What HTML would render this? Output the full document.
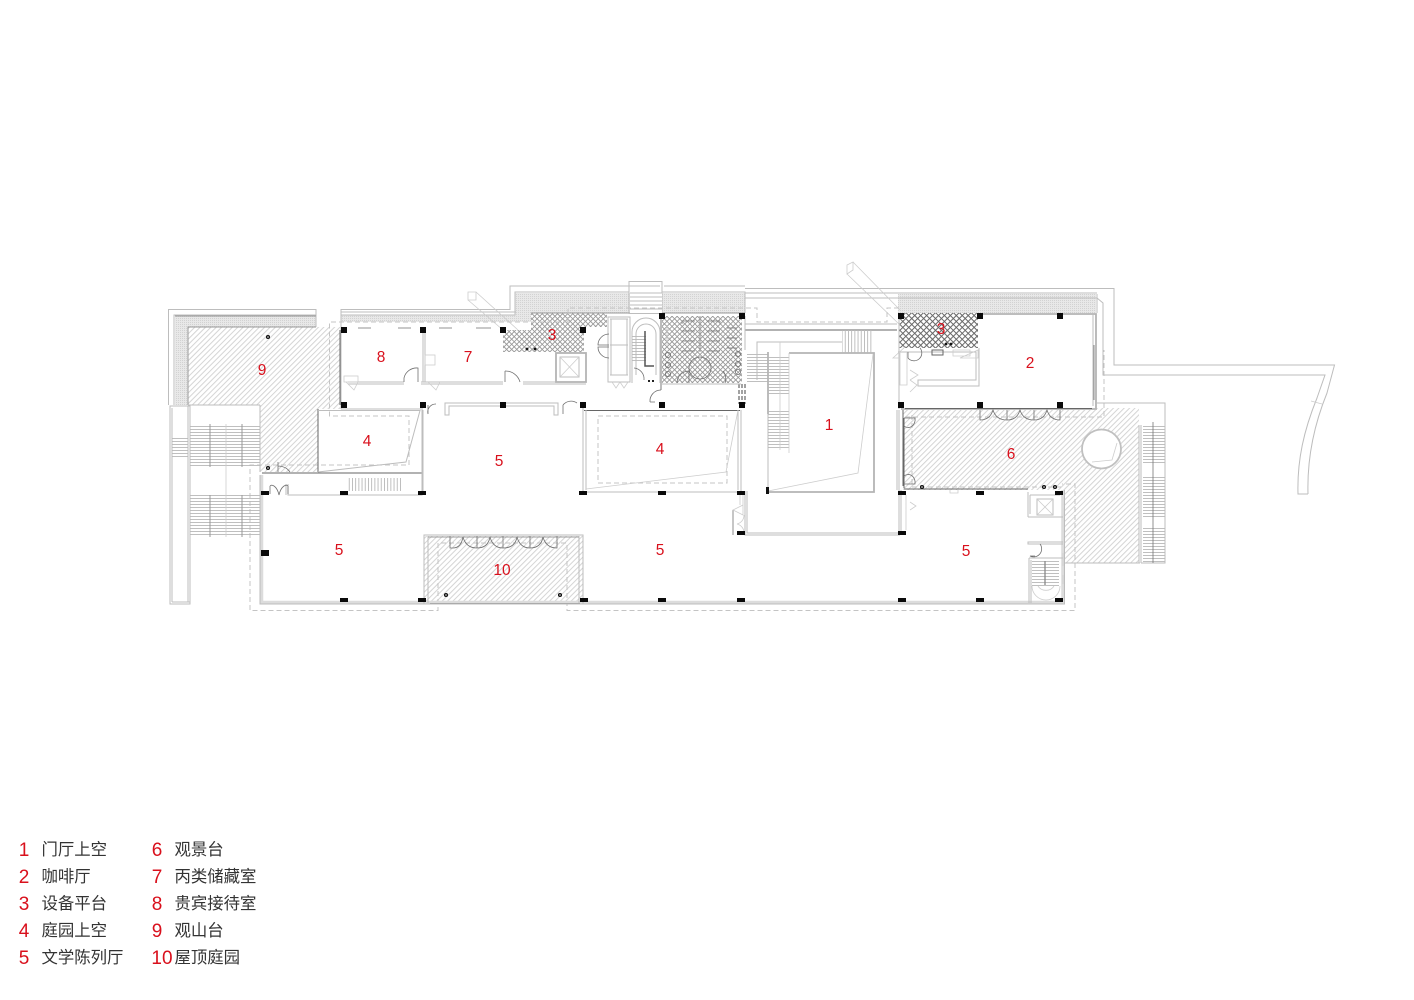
<!DOCTYPE html>
<html><head><meta charset="utf-8"><style>
html,body{margin:0;padding:0;background:#fff}
svg{display:block;filter:blur(.35px)}
.w{fill:none;stroke:#bdbdbd;stroke-width:1}
.t{fill:none;stroke:#cdcdcd;stroke-width:.8}
.g{fill:none;stroke:#b4b4b4;stroke-width:1.8}
.b{fill:none;stroke:#dcdcdc;stroke-width:3.5}
.k{fill:none;stroke:#666;stroke-width:1}
.d{fill:none;stroke:#c4c4c4;stroke-width:1;stroke-dasharray:5 3}
.a{fill:none;stroke:#707070;stroke-width:.8}
.n{font-family:"Liberation Sans",sans-serif;font-size:15.5px;fill:#d9101c;text-anchor:middle}
.l{font-family:"Liberation Sans",sans-serif;font-size:19px;fill:#d9101c;text-anchor:middle}
.c{font-family:"Liberation Sans","Noto Sans CJK SC",sans-serif;font-size:16.4px;fill:#333}
</style></head><body>
<svg width="1414" height="1000" viewBox="0 0 1414 1000" xmlns="http://www.w3.org/2000/svg">
<defs>
<pattern id="h" width="3.8" height="3.8" patternUnits="userSpaceOnUse" patternTransform="rotate(45)"><rect width="3.8" height="3.8" fill="#fff"/><rect width="1" height="3.8" fill="#d4d4d4"/></pattern>
<pattern id="m" width="3.6" height="3.6" patternUnits="userSpaceOnUse" patternTransform="rotate(45)"><rect width="3.6" height="3.6" fill="#fff"/><rect width=".9" height="3.6" fill="#999"/><rect width="3.6" height=".9" fill="#999"/></pattern>
<pattern id="md" width="4.2" height="4.2" patternUnits="userSpaceOnUse" patternTransform="rotate(45)"><rect width="4.2" height="4.2" fill="#fff"/><rect width="1" height="4.2" fill="#666"/><rect width="4.2" height="1" fill="#666"/></pattern>
<pattern id="f" width="2" height="2" patternUnits="userSpaceOnUse"><rect width="2" height="2" fill="#e8e8e8"/><rect width="1" height="1" fill="#d2d2d2"/></pattern>
<pattern id="th" width="3" height="3" patternUnits="userSpaceOnUse"><rect y="0" width="3" height=".9" fill="#b8b8b8"/></pattern>
<pattern id="tv" width="3.2" height="3" patternUnits="userSpaceOnUse"><rect width=".9" height="3" fill="#b8b8b8"/></pattern>
</defs>

<!-- fine-mesh roof bands -->
<path d="M175 316H316V327H188V405H175Z" fill="url(#f)"/>
<path d="M341 315H515V293H745V313H531V322H341Z" fill="url(#f)"/>
<rect x="898" y="294" width="198" height="19" fill="url(#f)"/>

<!-- hatch areas -->
<path d="M188 327H340V409H318V472H260V405H188Z" fill="url(#h)"/>
<path d="M903 410H1096V408H1139V563H1064V490H903Z" fill="url(#h)"/>
<rect x="424" y="536" width="159" height="67" fill="url(#h)"/>

<!-- mesh areas -->
<path d="M503 330H531V313H607V327H584V352H503Z" fill="url(#m)"/>
<rect x="662" y="316" width="80" height="67" fill="url(#m)"/>
<rect x="899" y="313" width="79" height="35" fill="url(#md)"/>

<!-- outer top lines -->
<path class="w" d="M168.500 405V309.500H316V324M341 324V309.500H510V286H660M664 286H745M745 288.500H1114V365H1334.500L1327 393C1314 425 1307 460 1308 494"/>
<path class="w" d="M174 405V315H316M341 315H515V292H629M662 292H745V313M745 293H898M745 298H1097L1103 303V375H1325L1317 398C1304 430 1297 460 1298 494H1308"/>
<path class="w" d="M341 312H516M1097 294V313M898 293H1097M316 310V327M341 310V327"/>
<path class="k" style="stroke:#999" d="M188 405V327H316M531 313H745M175 316H316"/>
<path class="t" d="M1311 401L1322 404"/>

<!-- ducts -->
<path class="t" d="M468 292H476V300H468ZM476 292L518 330M468 300L503 330"/>
<path class="t" d="M847 265L853 262V270L847 274ZM853 262L900 310M847 274L900 325"/>

<!-- top stair -->
<rect class="w" x="629" y="281.500" width="33" height="32"/>
<rect x="630" y="293" width="32" height="20" fill="#fff"/>
<path class="w" d="M630 293H662M630 297H662M630 301H662M630 305H662M630 309H662"/>

<!-- dashed outlines -->
<path class="d" d="M568 322V308H757V322H887V308H900"/>
<path class="d" d="M568 322H329.500V416H409V465H250V610.500H438V543H567V610.500H1075V484H1062"/>
<path class="d" d="M905 417H1104V350M598 416H727V483H598Z"/>
<path class="d" d="M912 415V487H1062"/>

<!-- left stairs -->
<path class="w" d="M170 406H190V604H170ZM172 408V602M188 406V602M188 405H260M190 602H172"/>
<path class="w" d="M260 405V472"/>
<rect x="190" y="424" width="70" height="43" fill="url(#th)"/>
<rect x="190" y="495" width="70" height="42" fill="url(#th)"/>
<rect x="172" y="438" width="16" height="20" fill="url(#th)"/>
<path d="M210 424V467M242 424V467M210 495V537M242 495V537" stroke="#999" stroke-width="1"/>
<path class="t" d="M226 424V537"/>

<!-- main outer walls -->
<path class="b" d="M261.500 475V602.500H1063V490"/>
<path class="w" d="M260 475V604H1064.500V490"/>
<path class="k" d="M262 473H422M318 409V472"/>
<path class="w" d="M288 484V495H422V410M286 495V484M423 493V410"/>
<rect x="347" y="478" width="56" height="13" fill="url(#tv)"/>
<path class="a" d="M270 486C272 484 277 486 279 495C281 486 286 484 288 486M270 486V494M288 486V494"/>
<path class="a" d="M278 466A14 12 0 0 1 290 472M278 462V472"/>
<path class="w" d="M341 327V409M341 409H423"/>
<path class="k" d="M340 330V405"/>

<!-- void 4 left -->
<path class="w" d="M318 410.500H420L406 462L318 472"/>

<!-- rooms 7 8 -->
<path class="w" d="M348 382H404M348 384H404M421 382H503M421 384H503M523 382H586M523 384H586M423 330V382M425 330V382"/>
<path class="a" d="M404 382V378A13 13 0 0 1 418 368V382"/>
<path class="a" d="M505 382V371M505 371A15 15 0 0 1 520 382"/>
<rect class="t" x="425" y="355" width="10" height="10"/>
<rect class="t" x="344" y="376" width="14" height="6"/>
<path class="t" d="M346 382L354 390L358 382M428 382L436 390L440 382"/>
<path class="a" d="M358 328H371M398 328H411M439 328H452M476 328H491"/>

<!-- elevator -->
<rect class="g" x="556" y="353" width="30" height="29"/>
<rect class="w" x="560" y="357" width="19" height="20"/>
<path class="t" d="M560 357L579 377M579 357L560 377"/>

<!-- core -->
<path class="w" d="M608 317H630V382H608ZM610 319H628M610 345H628M610 375H628M611 319V375M627 319V375"/>
<path class="t" d="M612 382L616 388L620 382L624 388L628 382"/>
<path class="a" d="M609 334A11 11 0 0 0 598 345H609M609 347H598A11 11 0 0 0 609 358"/>
<path class="w" d="M632 383V332A14 14 0 0 1 660 332V383"/>
<path class="w" d="M636 375V334A10 10 0 0 1 656 334V375"/>
<rect x="632" y="335" width="14" height="28" fill="url(#th)"/>
<path class="k" style="stroke:#555;stroke-width:1.5" d="M645 331V366H654"/>
<path class="g" d="M661 316V390"/>
<path class="a" d="M661 390A11 11 0 0 0 650 402M650 402H655"/>
<path class="a" d="M634 368A11 11 0 0 1 644 380"/>
<path d="M648 380h2v2h-2zM652 380h2v2h-2z" fill="#222"/>
<path d="M739 384V404M742 384V404M745 384V404" stroke="#444" stroke-width="1" stroke-dasharray="4 2" fill="none"/>

<!-- toilets -->
<path class="a" d="M682 321H695M682 331H695M682 341H695M682 351H695M707 321H720M707 331H720M707 341H720M707 351H720M727 328H737M727 338H737M727 348H737"/>
<path class="k" style="stroke:#999" d="M700 316V352M682 321V324M720 321V324"/>
<circle class="a" cx="700" cy="368" r="11"/>
<path class="a" d="M677 383A12 12 0 0 1 689 371V383M723 371A12 12 0 0 1 725 383"/>
<circle class="a" cx="668" cy="355" r="2.600"/><circle class="a" cx="668" cy="365" r="2.600"/><circle class="a" cx="668" cy="374" r="2.600"/>
<circle class="a" cx="738" cy="354" r="2.600"/><circle class="a" cx="738" cy="364" r="2.600"/><circle class="a" cx="738" cy="372" r="2.600"/>
<path class="t" d="M667 325V345M665 330H670M665 338H670"/>
<path class="w" d="M741 384H662"/>
<rect x="747" y="353" width="21" height="29" fill="url(#th)"/>

<!-- upper corridor -->
<path class="k" d="M745 330H897M745 328.500V331"/>
<path class="w" d="M745 324H897M745 316V350"/>

<!-- room 5 top wall -->
<path class="w" d="M445 415V403H558V415H554V406H449V415ZM583 403V410"/>
<path class="a" d="M563 405A11 12 0 0 1 577 403M563 405V414"/>
<path class="a" d="M428 414A8 8 0 0 1 436 404M428 405V414"/>

<!-- void 4 centre -->
<path class="k" d="M584 410.500H740"/>
<path class="w" d="M583 410V492H741V410M586 410V490M738 410V490"/>
<path class="t" d="M586 489L726 472L738 410"/>

<!-- void 1 & stairs -->
<path class="w" d="M757 380V342H842M768 353V491M757 342V380"/>
<path class="g" d="M789 353H874V492H768"/>
<path class="g" d="M768 352V414"/>
<path class="t" d="M768 491L858 473L873 354"/>
<rect x="768" y="355" width="21" height="40" fill="url(#th)"/>
<rect x="768" y="409" width="21" height="39" fill="url(#th)"/>
<rect x="842" y="330" width="30" height="23" fill="url(#tv)"/>
<path class="t" d="M780 342V450M789 353V453"/>
<path d="M766 487h3v7h-3z" fill="#111"/>

<!-- centre corridor -->
<path class="w" d="M745 491V535H900M747 491V533H900M899 410V535M901 490V535M897 410V490"/>
<path class="a" d="M733 510V535"/>
<path class="t" d="M743 505L733 510L743 515V495M740 494V505M744 515A9 9 0 0 1 737 524A9 9 0 0 1 744 533"/>
<path class="t" d="M906 495V530M910 510L916 506L910 502M901 530V534"/>

<!-- right room -->
<path class="g" d="M980 314H1096V409H901"/>
<path class="k" d="M905 408.500H1092M903 410V486"/>
<path class="w" d="M1093 314V406M979 348V386H918V380H976V352H898M899 313V409"/>
<path class="a" d="M1094 345V400"/>
<path class="a" d="M980 410V420Q990 420 993 410Q996 420 1007 420Q1017 420 1020 410Q1023 420 1034 420Q1044 420 1047 410Q1050 420 1060 420V410M1007 410V420M1034 410V420"/>
<path class="t" d="M907 352V385H900V352M906 346L893 358H900M910 370L918 375L910 380M910 380L917 385L910 392"/>
<rect class="k" x="932" y="350" width="11" height="5"/>
<path class="t" d="M953 350H970V356H953ZM960 358L978 350V358Z"/>
<path class="a" d="M908 352V358A7 7 0 0 0 920 348"/>
<path class="a" d="M904 418H915A7 8 0 0 1 904 426M904 484H915A7 8 0 0 0 904 476"/>
<path class="k" d="M904 418V488M904 489H1028"/>
<path class="t" d="M950 490V493H958V490"/>

<!-- area 6 outer and stairs -->
<path class="w" d="M1096 403H1165V425M1141 425V563M1139 425V563M1064 563H1140"/>
<rect x="1143" y="425" width="22" height="40" fill="url(#th)"/>
<rect x="1143" y="475" width="22" height="42" fill="url(#th)"/>
<rect x="1143" y="527" width="22" height="36" fill="url(#th)"/>
<path class="w" d="M1165 425V563H1141"/>
<path d="M1153 422V563" stroke="#777" stroke-width=".8"/>

<!-- circle -->
<circle cx="1101.500" cy="449" r="19.500" fill="#fff" stroke="#c0c0c0" stroke-width="1.800"/>
<path class="t" d="M1117 443L1112 460L1092 462"/>

<!-- bottom right core -->
<path class="w" d="M1028 517H1063M1028 492V517M1030 495V514M1030 495H1060M1063 542H1028V544H1063"/>
<rect class="w" x="1037" y="499" width="16" height="16"/>
<path class="t" d="M1037 499L1053 515M1053 499L1037 515"/>
<path class="a" d="M1040 544A8 8 0 0 1 1030 556H1035"/>
<path class="w" d="M1029 558H1063M1029 558V603M1031 560V603"/>
<rect x="1032" y="561" width="27" height="25" fill="url(#th)"/>
<path class="t" d="M1032 586A14 14 0 0 0 1060 586M1038 586A9 8 0 0 0 1054 586"/>
<path class="k" style="stroke:#888;stroke-width:1.300" d="M1045 561V585"/>
<path class="t" d="M1063 553V566M1063 575V584"/>

<!-- roof garden 10 -->
<path class="w" d="M424 535H583V604H424ZM428 536V603M579 536V603"/>
<path class="k" style="stroke:#999" d="M428 537H579"/>
<path class="k" d="M430 603.500H580" style="stroke:#aaa"/>
<path class="a" d="M450 536V548H453Q461 548 463 537Q466 548 477 548Q488 548 490 537Q493 548 503 548Q515 548 517 537Q520 548 530 548Q541 548 543 537Q546 548 557 548V536M477 536V548M503 536V548M530 536V548"/>

<!-- square columns -->
<path fill="#0a0a0a" d="M341 327h6v6h-6zM420 327h6v6h-6zM500 327h6v6h-6zM580 327h6v6h-6zM659 313h6v6h-6zM739 313h6v6h-6zM341 402h6v6h-6zM420 402h6v6h-6zM500 402h6v6h-6zM580 402h6v6h-6zM659 402h6v6h-6zM739 402h6v6h-6zM898 313h6v6h-6zM977 313h6v6h-6zM1057 313h6v6h-6zM898 402h6v6h-6zM977 402h6v6h-6zM1057 402h6v6h-6z"/>
<!-- flat columns -->
<path fill="#0a0a0a" d="M261 491h8v4h-8zM340 491h8v4h-8zM418 491h8v4h-8zM579 491h8v4h-8zM658 491h8v4h-8zM737 491h8v4h-8zM898 491h8v4h-8zM976 491h8v4h-8zM1055 491h8v4h-8zM261 550h8v6h-8zM340 598h8v4h-8zM418 598h8v4h-8zM580 598h8v4h-8zM658 598h8v4h-8zM737 598h8v4h-8zM898 598h8v4h-8zM976 598h8v4h-8zM1055 598h8v4h-8zM737 531h8v4h-8zM898 531h8v4h-8z"/>
<!-- round columns and dots -->
<g fill="#fff" stroke="#111" stroke-width="1.300">
<circle cx="268" cy="337" r="1.400"/><circle cx="268" cy="468" r="1.400"/><circle cx="446" cy="595" r="1.400"/><circle cx="560" cy="595" r="1.400"/><circle cx="922" cy="487" r="1.400"/><circle cx="1044" cy="487" r="1.400"/><circle cx="1055" cy="487" r="1.400"/>
</g>
<g fill="#111"><circle cx="527" cy="349" r="1.400"/><circle cx="535" cy="349" r="1.400"/><circle cx="946" cy="344" r="1.400"/><circle cx="951" cy="344" r="1.400"/></g>

<!-- room labels -->
<text class="n" x="829" y="430">1</text>
<text class="n" x="1030" y="368">2</text>
<text class="n" x="552" y="340">3</text>
<text class="n" x="941" y="334">3</text>
<text class="n" x="367" y="446">4</text>
<text class="n" x="660" y="454">4</text>
<text class="n" x="499" y="466">5</text>
<text class="n" x="339" y="555">5</text>
<text class="n" x="660" y="555">5</text>
<text class="n" x="966" y="556">5</text>
<text class="n" x="1011" y="459">6</text>
<text class="n" x="468" y="362">7</text>
<text class="n" x="381" y="362">8</text>
<text class="n" x="262" y="375">9</text>
<text class="n" x="502" y="575">10</text>

<!-- legend -->
<text class="l" x="24" y="856">1</text><text class="c" x="41.500" y="855">门厅上空</text>
<text class="l" x="24" y="883">2</text><text class="c" x="41.500" y="882">咖啡厅</text>
<text class="l" x="24" y="910">3</text><text class="c" x="41.500" y="909">设备平台</text>
<text class="l" x="24" y="937">4</text><text class="c" x="41.500" y="936">庭园上空</text>
<text class="l" x="24" y="964">5</text><text class="c" x="41.500" y="963">文学陈列厅</text>
<text class="l" x="157" y="856">6</text><text class="c" x="174.500" y="855">观景台</text>
<text class="l" x="157" y="883">7</text><text class="c" x="174.500" y="882">丙类储藏室</text>
<text class="l" x="157" y="910">8</text><text class="c" x="174.500" y="909">贵宾接待室</text>
<text class="l" x="157" y="937">9</text><text class="c" x="174.500" y="936">观山台</text>
<text class="l" x="162" y="964">10</text><text class="c" x="174.500" y="963">屋顶庭园</text>
</svg>
</body></html>
